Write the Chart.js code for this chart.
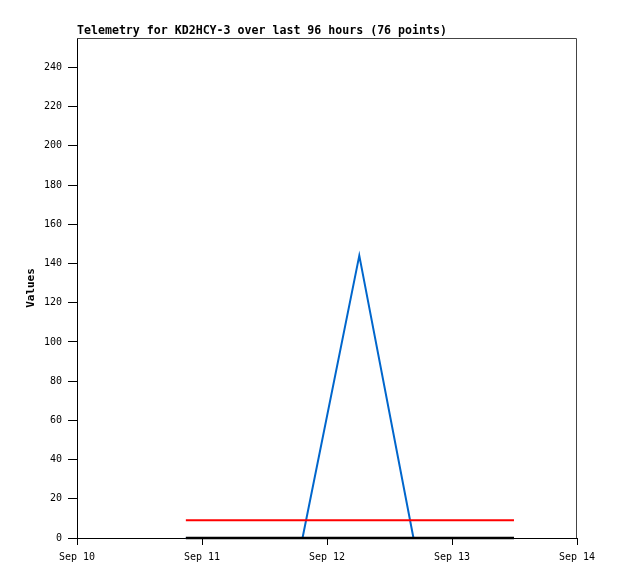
<!DOCTYPE html>
<html>
<head>
<meta charset="utf-8">
<script src="https://cdn.jsdelivr.net/npm/chart.js@4.4.1/dist/chart.umd.min.js"></script>
<style>
  html, body { margin: 0; padding: 0; background: #fff; }
  #wrap { width: 618px; height: 579px; }
</style>
</head>
<body>
<div id="wrap"><canvas id="telemetry"></canvas></div>
<script>
// x values are hours since Sep 10 00:00
var dayLabels = ['Sep 10', 'Sep 11', 'Sep 12', 'Sep 13', 'Sep 14'];
var yTicks = [0, 20, 40, 60, 80, 100, 120, 140, 160, 180, 200, 220, 240];

var blackHours = [20.9, 83.9];
var blackValues = [0, 0];

var redHours = [20.9, 83.9];
var redValues = [9, 9];

var blueHours = [20.9, 43.3, 54.2, 64.6, 83.9];
var blueValues = [0, 0, 144, 0, 0];

function toPoints(xs, ys) {
	var pts = [];
	for (var i in xs) {
		pts.push({x: xs[i], y: ys[i]});
	}
	return pts;
}

var mono = '"DejaVu Sans Mono", "Liberation Mono", monospace';

var titlePlugin = {
	id: 'plotTitle',
	afterDraw: function(chart) {
		var ctx = chart.ctx;
		var a = chart.chartArea;
		ctx.save();
		// top and right frame, gray
		ctx.strokeStyle = '#444';
		ctx.lineWidth = 1;
		ctx.beginPath();
		ctx.moveTo(a.left, a.top + 0.5);
		ctx.lineTo(a.right - 0.5, a.top + 0.5);
		ctx.lineTo(a.right - 0.5, a.bottom);
		ctx.stroke();
		ctx.fillStyle = '#000';
		ctx.font = 'bold 11.6px ' + mono;
		ctx.textBaseline = 'alphabetic';
		ctx.textAlign = 'left';
		ctx.fillText('Telemetry for KD2HCY-3 over last 96 hours (76 points)', a.left, 34);
		ctx.restore();
	}
};

var chartdata = {
	datasets: [
		{
			label: 'black',
			data: toPoints(blackHours, blackValues),
			borderColor: '#000000',
			borderWidth: 2.5,
			pointRadius: 0,
			tension: 0,
			clip: 4
		},
		{
			label: 'red',
			data: toPoints(redHours, redValues),
			borderColor: '#ff0000',
			borderWidth: 2,
			pointRadius: 0,
			tension: 0,
			clip: 4
		},
		{
			label: 'blue',
			data: toPoints(blueHours, blueValues),
			borderColor: '#0066cc',
			borderWidth: 2,
			pointRadius: 0,
			tension: 0,
			clip: 4
		}
	]
};

new Chart(document.getElementById('telemetry'), {
	type: 'line',
	data: chartdata,
	plugins: [titlePlugin],
	options: {
		responsive: true,
		maintainAspectRatio: false,
		animation: false,
		layout: {
			padding: {left: 0, top: 38, right: 41, bottom: 0}
		},
		plugins: {
			legend: {display: false},
			tooltip: {enabled: false}
		},
		scales: {
			x: {
				type: 'linear',
				min: 0,
				max: 96,
				afterBuildTicks: function(scale) {
					scale.ticks = dayLabels.map(function(l, i) { return {value: i * 24}; });
				},
				afterFit: function(scale) { scale.height = 41; },
				ticks: {
					color: '#000',
					font: {family: mono, size: 10},
					padding: 6,
					maxRotation: 0,
					callback: function(v) { return dayLabels[Math.round(v / 24)]; }
				},
				grid: {
					drawOnChartArea: false,
					drawTicks: true,
					tickLength: 7,
					color: '#000'
				},
				border: {color: '#000', width: 1}
			},
			y: {
				min: 0,
				max: 255,
				afterBuildTicks: function(scale) {
					scale.ticks = yTicks.map(function(v) { return {value: v}; });
				},
				afterFit: function(scale) { scale.width = 77; },
				ticks: {
					color: '#000',
					font: {family: mono, size: 10},
					padding: 6
				},
				grid: {
					drawOnChartArea: false,
					drawTicks: true,
					tickLength: 9,
					color: '#000'
				},
				border: {color: '#000', width: 1},
				title: {
					display: true,
					text: 'Values',
					color: '#000',
					font: {family: mono, size: 11, weight: 'bold'},
					padding: {top: 25, bottom: 0}
				}
			}
		}
	}
});
</script>
</body>
</html>
